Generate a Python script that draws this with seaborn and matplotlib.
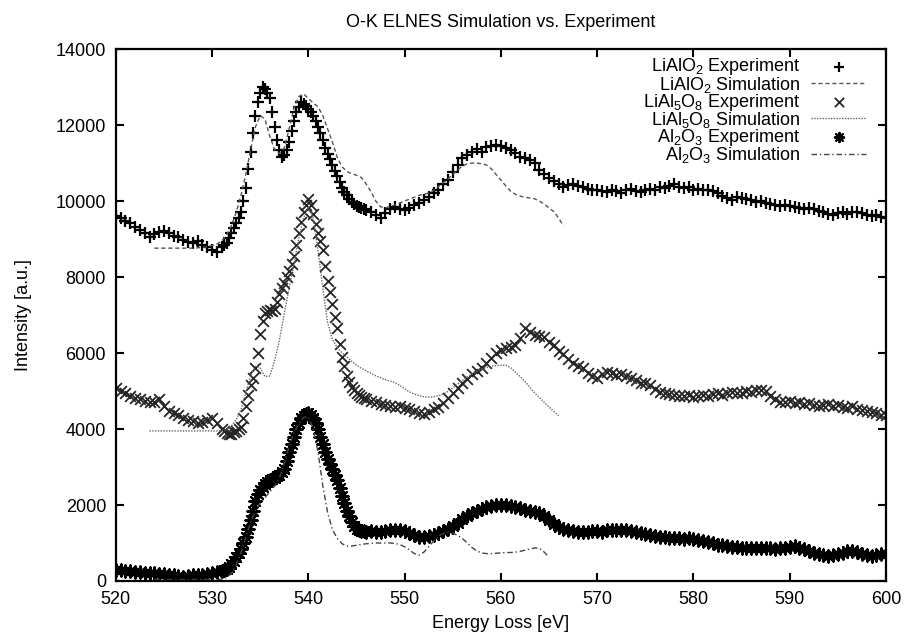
"""O-K ELNES: simulated vs. measured spectra for three oxides."""

import matplotlib

matplotlib.use("Agg")

import matplotlib.pyplot as plt
import numpy as np
import pandas as pd
import seaborn as sns

# experimental spectra, sampled every 0.5 eV from 520 eV
EXP_START = 520.0
STEP = 0.5
# extra readings on the steep edge, at 531.25, 531.75 ... 545.75 eV
EDGE_START = 531.25

lialo2_exp = [
    9600, 9550, 9480, 9420, 9320, 9250, 9150, 9060, 9120, 9180,
    9200, 9150, 9080, 9050, 8980, 8930, 8900, 8950, 8850, 8800,
    8720, 8660, 8780, 8900, 9150, 9420, 9700, 10350, 11300, 12250,
    12850, 12950, 12700, 11950, 11350, 11200, 11550, 12100, 12480, 12560,
    12420, 12250, 11950, 11600, 11250, 10950, 10650, 10350, 10150, 9980,
    9880, 9820, 9760, 9700, 9620, 9560, 9680, 9800, 9840, 9800,
    9760, 9820, 9900, 9960, 10040, 10100, 10200, 10300, 10440, 10560,
    10760, 10950, 11120, 11200, 11300, 11360, 11300, 11420, 11460, 11480,
    11440, 11400, 11340, 11260, 11160, 11120, 11080, 11000, 10820, 10700,
    10600, 10520, 10440, 10360, 10420, 10460, 10400, 10380, 10320, 10280,
    10300, 10260, 10240, 10300, 10260, 10200, 10280, 10320, 10260, 10240,
    10280, 10320, 10300, 10360, 10340, 10400, 10440, 10380, 10340, 10360,
    10300, 10320, 10280, 10300, 10260, 10220, 10140, 10080, 10020, 10100,
    10080, 10060, 10020, 9980, 10000, 9960, 9920, 9900, 9880, 9900,
    9860, 9840, 9820, 9800, 9820, 9780, 9740, 9700, 9660, 9620,
    9680, 9700, 9660, 9700, 9720, 9680, 9640, 9600, 9620, 9580,
    9560,
]
lialo2_edge = [
    8840, 9020, 9280, 9560, 10000, 10850, 11800, 12600, 13000, 12850,
    12350, 11600, 11150, 11350, 11850, 12350, 12600, 12500, 12350, 12100,
    11800, 11400, 11100, 10800, 10500, 10250, 10050, 9920, 9850, 9790,
]

lial5o8_exp = [
    5080, 5000, 4950, 4880, 4820, 4780, 4740, 4700, 4720, 4780,
    4600, 4480, 4420, 4380, 4300, 4250, 4200, 4160, 4180, 4240,
    4300, 4150, 4000, 3900, 3880, 3950, 4050, 4600, 5150, 5600,
    6500, 7050, 7120, 7150, 7550, 7850, 8150, 8550, 9150, 9700,
    10050, 9650, 9150, 8700, 7900, 7300, 6650, 5900, 5400, 5100,
    4950, 4850, 4780, 4740, 4700, 4650, 4620, 4600, 4580, 4600,
    4560, 4520, 4480, 4430, 4400, 4450, 4520, 4580, 4680, 4820,
    4950, 5080, 5200, 5320, 5450, 5520, 5600, 5750, 5880, 6000,
    6080, 6120, 6150, 6220, 6400, 6650, 6550, 6480, 6450, 6420,
    6300, 6200, 6050, 5980, 5850, 5750, 5650, 5600, 5480, 5400,
    5350, 5450, 5500, 5480, 5420, 5460, 5400, 5350, 5280, 5220,
    5200, 5150, 5050, 4980, 4950, 4920, 4900, 4880, 4860, 4900,
    4840, 4860, 4900, 4880, 4920, 4950, 4900, 4960, 4980, 4940,
    4960, 5000, 4980, 5020, 5040, 5000, 4880, 4780, 4700, 4720,
    4740, 4680, 4700, 4660, 4680, 4640, 4600, 4620, 4660, 4600,
    4620, 4580, 4560, 4600, 4540, 4500, 4480, 4450, 4420, 4380,
    4360,
]
lial5o8_edge = [
    3950, 3860, 3920, 4000, 4300, 4900, 5350, 6000, 6850, 7100,
    7100, 7350, 7700, 8000, 8350, 8850, 9450, 9900, 9900, 9400,
    8950, 8300, 7600, 6950, 6250, 5650, 5250, 5020, 4900, 4810,
]

al2o3_exp = [
    300, 280, 260, 250, 240, 230, 220, 210, 200, 190,
    180, 170, 150, 120, 110, 130, 150, 160, 170, 190,
    210, 240, 270, 320, 450, 620, 850, 1150, 1600, 2100,
    2400, 2550, 2650, 2720, 2800, 2950, 3400, 3800, 4150, 4350,
    4420, 4300, 4000, 3600, 3200, 2950, 2650, 2250, 1850, 1550,
    1360, 1320, 1300, 1310, 1290, 1300, 1320, 1330, 1340, 1350,
    1320, 1260, 1200, 1170, 1160, 1180, 1220, 1270, 1320, 1380,
    1450, 1530, 1620, 1700, 1780, 1850, 1900, 1950, 1970, 1990,
    2000, 1990, 1970, 1950, 1920, 1880, 1850, 1820, 1790, 1700,
    1600, 1500, 1420, 1370, 1340, 1320, 1300, 1290, 1300, 1310,
    1320, 1300, 1330, 1340, 1350, 1330, 1340, 1320, 1300, 1270,
    1240, 1210, 1180, 1160, 1150, 1140, 1120, 1130, 1110, 1120,
    1100, 1080, 1050, 1020, 990, 960, 940, 920, 900, 890,
    880, 880, 870, 860, 870, 880, 860, 850, 870, 880,
    900, 920, 880, 840, 780, 730, 700, 680, 670, 690,
    710, 740, 780, 800, 760, 720, 680, 650, 680, 700,
    720,
]
al2o3_edge = [
    290, 380, 530, 730, 1000, 1380, 1850, 2280, 2480, 2600,
    2690, 2760, 2870, 3150, 3600, 4000, 4280, 4400, 4380, 4150,
    3800, 3400, 3080, 2800, 2450, 2050, 1700, 1440, 1340, 1310,
]

# simulated spectra, 0.5 eV steps, each with its own start energy
lialo2_sim_start = 524.0
lialo2_sim = [
    8760, 8760, 8760, 8760, 8760, 8760, 8760, 8760, 8760, 8770,
    8780, 8800, 8830, 8870, 8950, 9100, 9350, 9700, 10150, 10700,
    11350, 11950, 12250, 12150, 11700, 11350, 11250, 11400, 11900, 12450,
    12750, 12820, 12700, 12580, 12480, 12250, 11900, 11550, 11150, 10900,
    10780, 10720, 10680, 10620, 10450, 10250, 10000, 9850, 9820, 9860,
    9900, 9950, 10000, 10050, 10100, 10150, 10180, 10210, 10280, 10380,
    10480, 10580, 10700, 10820, 10920, 10980, 11000, 11000, 10980, 10950,
    10850, 10700, 10550, 10400, 10260, 10180, 10130, 10100, 10080, 10060,
    10000, 9920, 9820, 9720, 9550, 9350,
]

lial5o8_sim_start = 523.5
lial5o8_sim = [
    3950, 3950, 3950, 3950, 3950, 3950, 3950, 3950, 3950, 3950,
    3950, 3950, 3950, 3950, 3950, 3950, 3980, 4080, 4250, 4500,
    4950, 5400, 5650, 5600, 5380, 5400, 5800, 6350, 7050, 7700,
    8350, 9000, 9550, 9850, 9550, 8700, 7700, 6800, 6350, 6150,
    6000, 5900, 5780, 5680, 5600, 5530, 5470, 5400, 5350, 5300,
    5260, 5220, 5150, 5060, 4980, 4920, 4880, 4850, 4840, 4850,
    4880, 4920, 4990, 5080, 5180, 5280, 5370, 5450, 5520, 5580,
    5620, 5650, 5670, 5680, 5680, 5620, 5500, 5380, 5250, 5100,
    4950, 4830, 4700, 4580, 4460, 4350,
]

al2o3_sim_start = 524.0
al2o3_sim = [
    40, 40, 40, 40, 40, 40, 40, 40, 40, 40,
    40, 40, 40, 40, 50, 90, 200, 420, 750, 1150,
    1550, 1850, 2050, 2200, 2350, 2500, 2720, 3100, 3550, 3900,
    4150, 4300, 4330, 4000, 3400, 2500, 1800, 1350, 1120, 980,
    920, 920, 940, 960, 980, 990, 1000, 1000, 1000, 1000,
    990, 960, 900, 820, 720, 680, 760, 900, 1050, 1180,
    1250, 1280, 1260, 1200, 1120, 1000, 880, 790, 740, 720,
    720, 730, 740, 750, 750, 760, 780, 810, 840, 870,
    860, 760, 620,
]

x_ticks = list(range(520, 601, 10))
y_ticks = list(range(0, 14001, 2000))


def _frame(values: list[int], start: float) -> pd.DataFrame:
    energy = start + STEP * np.arange(len(values))
    return pd.DataFrame({"energy": energy, "intensity": values})


def _exp_frame(values: list[int], edge: list[int]) -> pd.DataFrame:
    df = pd.concat([_frame(values, EXP_START), _frame(edge, EDGE_START)])
    return df.sort_values("energy").reset_index(drop=True)


sns.set_style("ticks")
plt.rcParams["font.family"] = ["Liberation Sans", "DejaVu Sans"]
plt.rcParams["mathtext.fontset"] = "custom"
plt.rcParams["mathtext.rm"] = "Liberation Sans"
plt.rcParams["text.color"] = "black"
plt.rcParams["axes.labelcolor"] = "black"
plt.rcParams["xtick.color"] = "black"
plt.rcParams["ytick.color"] = "black"

fig = plt.figure(figsize=(9.05, 6.34), dpi=100)
ax = fig.add_axes([0.128, 0.0836, 0.851, 0.839])

sub2 = r"$_\mathregular{2}$"
sub3 = r"$_\mathregular{3}$"
sub5 = r"$_\mathregular{5}$"
sub8 = r"$_\mathregular{8}$"

series = [
    ("exp", (lialo2_exp, lialo2_edge), f"LiAlO{sub2} Experiment",
     dict(marker="+", s=80, linewidth=1.6, color="black")),
    ("sim", (lialo2_sim, lialo2_sim_start), f"LiAlO{sub2} Simulation",
     dict(color="#555555", linewidth=1.0, dashes=(3, 2))),
    ("exp", (lial5o8_exp, lial5o8_edge), f"LiAl{sub5}O{sub8} Experiment",
     dict(marker="x", s=60, linewidth=1.3, color="#262626")),
    ("sim", (lial5o8_sim, lial5o8_sim_start), f"LiAl{sub5}O{sub8} Simulation",
     dict(color="#666666", linewidth=1.0, dashes=(1, 1))),
    ("exp", (al2o3_exp, al2o3_edge), f"Al{sub2}O{sub3} Experiment",
     dict(marker=(8, 2, 0), s=80, linewidth=1.5, color="black")),
    ("sim", (al2o3_sim, al2o3_sim_start), f"Al{sub2}O{sub3} Simulation",
     dict(color="#444444", linewidth=1.0, dashes=(4, 2, 1, 2))),
]

for kind, data, label, style in series:
    if kind == "exp":
        df = _exp_frame(*data)
        sns.scatterplot(data=df, x="energy", y="intensity", ax=ax, label=label,
                        edgecolor=style["color"], **style)
    else:
        df = _frame(*data)
        dashes = style.pop("dashes")
        sns.lineplot(data=df, x="energy", y="intensity", ax=ax, label=label, **style)
        ax.lines[-1].set_dashes(dashes)

ax.set_xlim(520, 600)
ax.set_ylim(0, 14000)
ax.set_xticks(x_ticks)
ax.set_yticks(y_ticks)
ax.tick_params(direction="in", length=6, width=1.5, labelsize=13,
               top=True, right=True, pad=7)
for spine in ax.spines.values():
    spine.set_linewidth(1.6)
    spine.set_color("black")

ax.set_xlabel("Energy Loss [eV]", fontsize=13, labelpad=5)
ax.set_ylabel("Intensity [a.u.]", fontsize=13, labelpad=17)
ax.set_title("O-K ELNES Simulation vs. Experiment", fontsize=13, pad=16)

leg = ax.legend(loc="upper right", bbox_to_anchor=(0.99, 1.01), frameon=False,
                markerfirst=False, fontsize=13, labelspacing=-0.16,
                handlelength=3.0, handletextpad=0.6, borderpad=0.2)
for handle in leg.legend_handles:
    if hasattr(handle, "set_sizes"):
        handle.set_sizes([45])

fig.savefig("out.png", dpi=100)
